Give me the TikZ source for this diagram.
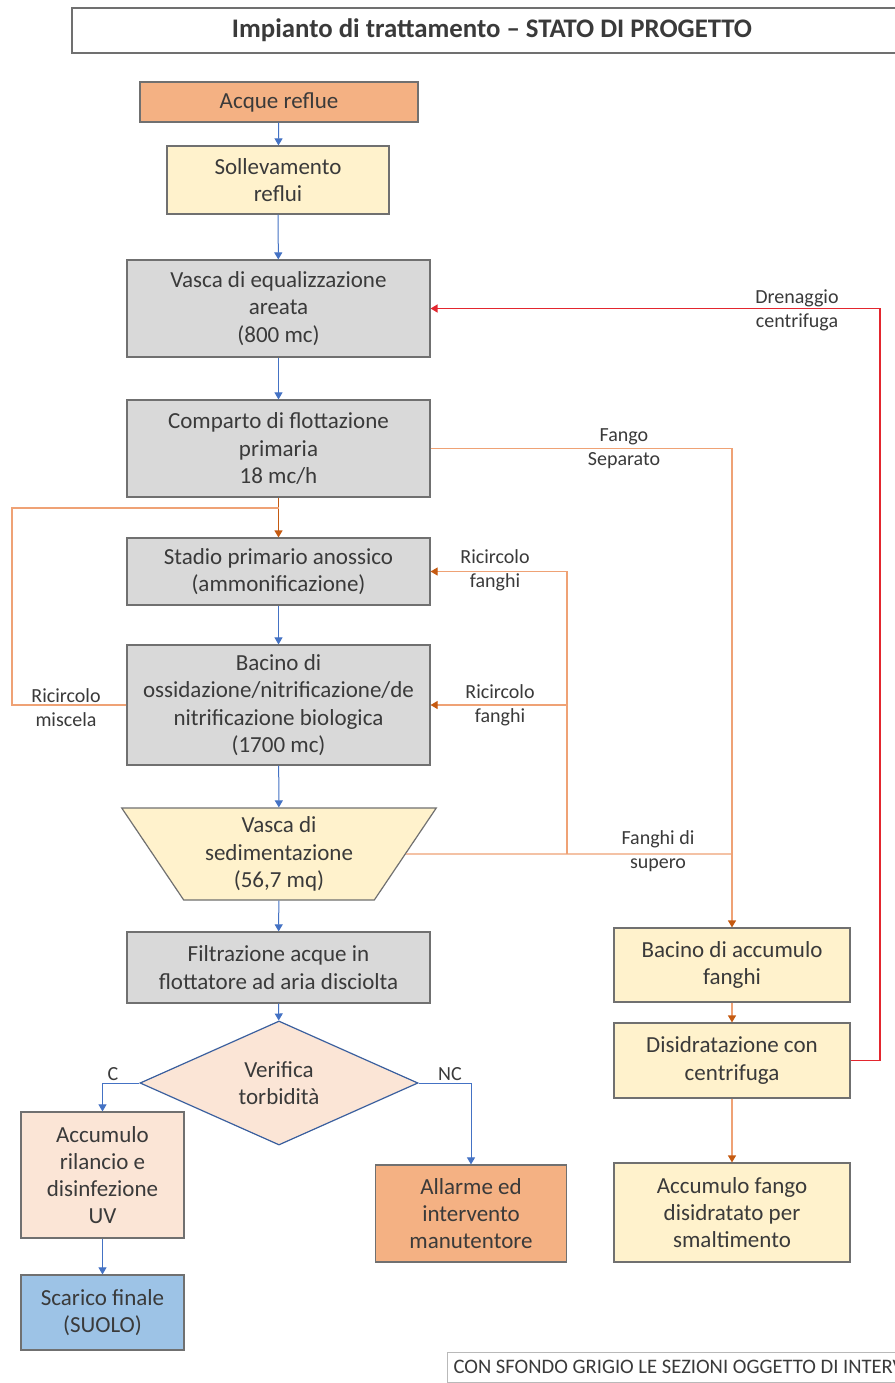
\documentclass[tikz,border=0pt]{standalone}
\usepackage{fontspec}
\setmainfont{Carlito}
\usetikzlibrary{arrows.meta}
\usetikzlibrary{shapes.geometric}
\definecolor{grigio}{HTML}{D9D9D9}
\definecolor{giallo}{HTML}{FFF2CC}
\definecolor{arancio}{HTML}{F4B183}
\definecolor{pesca}{HTML}{FBE5D6}
\definecolor{azzurro}{HTML}{9DC3E6}
\definecolor{bordo}{HTML}{707070}
\definecolor{bordodiam}{HTML}{3A5F9E}
\definecolor{blu}{HTML}{4472C4}
\definecolor{linea}{HTML}{EFA275}
\definecolor{punta}{HTML}{C55A11}
\definecolor{rosso}{HTML}{E3262E}
\definecolor{testo}{HTML}{3A3A3A}

\begin{document}
\begin{tikzpicture}[x=0.5pt,y=-0.5pt,
    box/.style={draw=bordo,line width=0.6pt,align=center,inner sep=0pt,text=testo,font=\fontsize{11.5}{13.6}\selectfont},
    flow/.style={draw=blu,line width=0.5pt,-{Triangle[width=4pt,length=3.5pt]}},
    pipe/.style={draw=linea,line width=0.6pt},
    sludge/.style={pipe,-{Triangle[width=4pt,length=3.5pt,color=punta]}},
    drain/.style={draw=rosso,line width=0.8pt,-{Triangle[width=4pt,length=3.5pt]}},
    lbl/.style={align=center,text=testo,font=\fontsize{10}{12}\selectfont,inner sep=0pt}]
  \clip (0,0) rectangle (895,1383);
  \fill[white] (0,0) rectangle (895,1383);
  \node[box,minimum width=420pt,minimum height=22.5pt,font=\bfseries\fontsize{13.4}{15}\selectfont] (titolo) at (492,30.5) {Impianto di trattamento – STATO DI PROGETTO};

  \node[box,fill=arancio,minimum width=139pt,minimum height=20pt] (acque) at (279,102) {Acque reflue};
  \node[box,fill=giallo,minimum width=111pt,minimum height=34pt] (sollev) at (278,180) {Sollevamento\\reflui};
  \node[box,fill=grigio,minimum width=151.5pt,minimum height=48.5pt] (equal) at (278.5,308.5) {Vasca di equalizzazione\\areata\\(800 mc)};
  \node[box,fill=grigio,minimum width=151.5pt,minimum height=48.5pt] (flott) at (278.5,448.5) {Comparto di flottazione\\primaria\\18 mc/h};
  \node[box,fill=grigio,minimum width=151.5pt,minimum height=33.5pt] (anoss) at (278.5,571.5) {Stadio primario anossico\\(ammonificazione)};
  \node[box,fill=grigio,minimum width=151.5pt,minimum height=60pt] (ossid) at (278.5,705) {Bacino di\\ossidazione/nitrificazione/de\\nitrificazione biologica\\(1700 mc)};
  \node[box,fill=giallo,trapezium,trapezium left angle=123,trapezium right angle=123,trapezium stretches=true,minimum width=157.5pt,minimum height=46pt] (sedim) at (279,854) {Vasca di\\sedimentazione\\(56,7 mq)};
  \node[box,fill=grigio,minimum width=151.5pt,minimum height=35.5pt] (filtr) at (278.5,967.5) {Filtrazione acque in\\flottatore ad aria disciolta};
  \node[box,draw=bordodiam,fill=pesca,diamond,minimum width=139pt,minimum height=54.5pt] (verif) at (279,1083) {Verifica\\torbidità};
  \node[box,fill=pesca,minimum width=81.5pt,minimum height=63pt] (uv) at (102.5,1175) {Accumulo\\rilancio e\\disinfezione\\UV};
  \node[box,fill=azzurro,minimum width=81.5pt,minimum height=37.5pt] (scarico) at (102.5,1312.5) {Scarico finale\\(SUOLO)};
  \node[box,fill=arancio,minimum width=95.5pt,minimum height=48.5pt] (allarme) at (471,1213.5) {Allarme ed\\intervento\\manutentore};
  \node[box,fill=giallo,minimum width=118pt,minimum height=37pt] (accfang) at (732,965) {Bacino di accumulo\\fanghi};
  \node[box,fill=giallo,minimum width=118pt,minimum height=37.5pt] (centr) at (732,1060.5) {Disidratazione con\\centrifuga};
  \node[box,fill=giallo,minimum width=118pt,minimum height=49.5pt] (smalt) at (732,1212.5) {Accumulo fango\\disidratato per\\smaltimento};
  \node[box,draw=gray!55,anchor=north west,inner xsep=3pt,inner ysep=4pt,font=\fontsize{10.3}{12}\selectfont] (nota) at (447,1352) {CON SFONDO GRIGIO LE SEZIONI OGGETTO DI INTERVENTO};

  \draw[flow] (acque) -- (sollev);
  \draw[flow] (sollev) -- (equal);
  \draw[flow] (equal) -- (flott);
  \draw[sludge,draw=punta] (flott) -- (anoss);
  \draw[flow] (anoss) -- (ossid);
  \draw[flow] (ossid) -- (sedim);
  \draw[flow] (sedim) -- (filtr);
  \draw[flow] (filtr) -- (verif);
  \draw[flow] (verif.west) -| (uv.north);
  \draw[flow] (verif.east) -| (allarme.north);
  \draw[flow] (uv) -- (scarico);
  \draw[sludge] (accfang) -- (centr);
  \draw[sludge] (centr) -- (smalt);

  \coordinate (dren) at (880,1060.5);
  \draw[drain] (centr.east) -- (dren) |- (equal.east);
  \draw[sludge] (flott.east) -| (accfang.north);
  \coordinate (ric) at (567,854);
  \draw[pipe] (sedim.east) -- (ric) -- (ric -| accfang.north);
  \draw[sludge] (ric) |- (anoss.east);
  \draw[sludge] (ric |- ossid.east) -- (ossid.east);
  \coordinate (misc) at (12,508);
  \draw[pipe] (ossid.west) -| (misc) -- (misc -| flott.south);

  \node[lbl] (drenlbl) at (797,310) {Drenaggio\\centrifuga};
  \node[lbl] (fangolbl) at (624,449) {Fango\\Separato};
  \node[lbl] (ricf1) at (495,570) {Ricircolo\\fanghi};
  \node[lbl] (ricf2) at (500,705) {Ricircolo\\fanghi};
  \node[lbl] (ricm) at (66,708) {Ricircolo\\miscela};
  \node[lbl] (superolbl) at (658,851) {Fanghi di\\supero};
  \node[lbl,anchor=south] (clbl) at (113,1081) {C};
  \node[lbl,anchor=south] (nclbl) at (450,1081) {NC};
\end{tikzpicture}
\end{document}
